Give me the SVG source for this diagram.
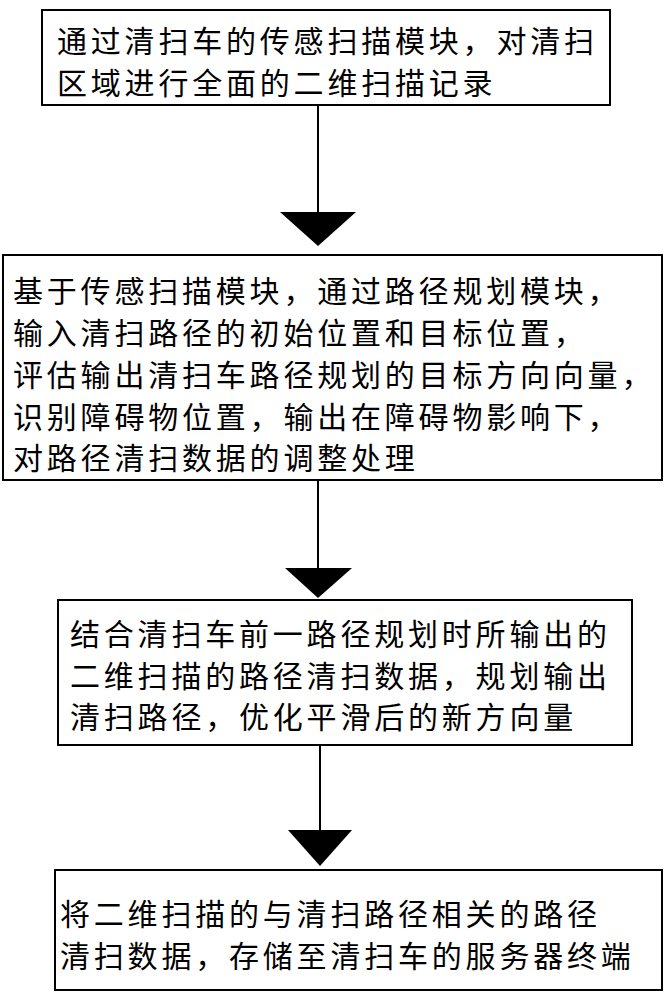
<svg xmlns="http://www.w3.org/2000/svg" width="671" height="1000" viewBox="0 0 671 1000">
<style>
.box{fill:#fff;stroke:#000;stroke-width:2}
.t{font-family:"Noto Sans CJK SC","Liberation Serif",serif;font-size:30px;letter-spacing:3.8px;fill:#000}
.ln{stroke:#000;stroke-width:2}
</style>
<rect width="671" height="1000" fill="#fff"/>
<g id="connectors">
<line class="ln" x1="318" y1="105" x2="318" y2="212"/>
<polygon points="280,212 356,212 318,246"/>
<line class="ln" x1="318" y1="480" x2="318" y2="568"/>
<polygon points="285,568 352,568 318,598"/>
<line class="ln" x1="320" y1="745" x2="320" y2="830"/>
<polygon points="288,830 352,830 320,866"/>
</g>
<g id="n1">
<rect class="box" x="42" y="10" width="568" height="95"/>
<text class="t" x="57" y="52">通过清扫车的传感扫描模块，对清扫</text>
<text class="t" x="57" y="94">区域进行全面的二维扫描记录</text>
</g>
<g id="n2">
<rect class="box" x="3" y="255" width="659" height="225"/>
<text class="t" x="13" y="302">基于传感扫描模块，通过路径规划模块，</text>
<text class="t" x="13" y="344">输入清扫路径的初始位置和目标位置，</text>
<text class="t" x="13" y="386">评估输出清扫车路径规划的目标方向向量，</text>
<text class="t" x="13" y="428">识别障碍物位置，输出在障碍物影响下，</text>
<text class="t" x="13" y="469">对路径清扫数据的调整处理</text>
</g>
<g id="n3">
<rect class="box" x="58" y="600" width="574" height="145"/>
<text class="t" x="70" y="645">结合清扫车前一路径规划时所输出的</text>
<text class="t" x="70" y="687">二维扫描的路径清扫数据，规划输出</text>
<text class="t" x="70" y="728">清扫路径，优化平滑后的新方向量</text>
</g>
<g id="n4">
<rect class="box" x="55" y="870" width="607" height="120"/>
<text class="t" x="60" y="925">将二维扫描的与清扫路径相关的路径</text>
<text class="t" x="60" y="967">清扫数据，存储至清扫车的服务器终端</text>
</g>
</svg>
